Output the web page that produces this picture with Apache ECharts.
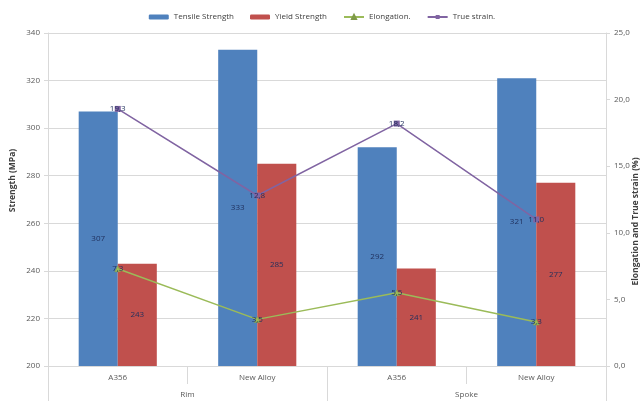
<!DOCTYPE html>
<html>
<head>
<meta charset="utf-8">
<script src="https://cdn.jsdelivr.net/npm/echarts@6/dist/echarts.min.js"></script>
<style>html,body{margin:0;padding:0;background:#fff;}#c{width:644px;height:401px;}</style>
</head>
<body>
<div id="c"></div>
<script>
const categories = ['A356', 'New Alloy', 'A356', 'New Alloy'];
const groups = ['Rim', 'Spoke'];
const tensile = [307, 333, 292, 321];
const yieldS = [243, 285, 241, 277];
const elongation = [7.3, 3.5, 5.5, 3.3];
const trueStrain = [19.3, 12.8, 18.2, 11.0];
const leftTicks = { min: 200, max: 340, interval: 20 };
const rightTicks = { min: 0, max: 25, interval: 5 };

const FONT = 'Open Sans';
const comma = v => Number(v).toFixed(1).replace('.', ',');
const labelColor = '#1f2f5c';
const gridCol = '#d9d9d9';

const chart = echarts.init(document.getElementById('c'));
chart.setOption({
  animation: false,
  textStyle: { fontFamily: FONT },
  legend: {
    top: 8, left: 'center', itemGap: 16, itemWidth: 20, itemHeight: 5,
    textStyle: { fontSize: 8, color: '#404040', fontFamily: FONT },
    data: ['Tensile Strength', 'Yield Strength', 'Elongation.', 'True strain.']
  },
  grid: { left: 48, right: 38, top: 33, bottom: 35, containLabel: false, outerBoundsMode: 'none' },
  xAxis: [
    {
      type: 'category', data: categories, position: 'bottom',
      axisLine: { show: true, lineStyle: { color: gridCol } },
      axisTick: { show: true, interval: 0, alignWithLabel: false, length: 18, lineStyle: { color: gridCol } },
      axisLabel: { interval: 0, margin: 8, fontSize: 8, color: '#595959', fontFamily: FONT }
    },
    {
      type: 'category', data: groups, position: 'bottom',
      axisLine: { show: false },
      axisTick: { show: true, interval: 0, alignWithLabel: false, length: 36, lineStyle: { color: gridCol } },
      axisLabel: { interval: 0, margin: 25, fontSize: 8, color: '#595959', fontFamily: FONT }
    }
  ],
  yAxis: [
    {
      type: 'value', min: leftTicks.min, max: leftTicks.max, interval: leftTicks.interval,
      name: 'Strength (MPa)', nameLocation: 'middle', nameGap: 31, nameRotate: 90, nameMoveOverlap: false,
      nameTextStyle: { fontSize: 8.5, fontWeight: 'bold', color: '#404040', fontFamily: FONT, padding: [0, 0, 0, 38] },
      axisLine: { show: true, lineStyle: { color: gridCol } },
      axisTick: { show: true, length: 4, lineStyle: { color: gridCol } },
      axisLabel: { fontSize: 8, color: '#595959', margin: 8, fontFamily: FONT },
      splitLine: { show: true, lineStyle: { color: gridCol } }
    },
    {
      type: 'value', position: 'right', min: rightTicks.min, max: rightTicks.max, interval: rightTicks.interval,
      name: 'Elongation and True strain (%)', nameLocation: 'middle', nameGap: 25, nameRotate: 90, nameMoveOverlap: false,
      nameTextStyle: { fontSize: 8.5, fontWeight: 'bold', color: '#404040', fontFamily: FONT, padding: [0, 44, 0, 0] },
      axisLine: { show: true, lineStyle: { color: gridCol } },
      axisTick: { show: true, length: 4, lineStyle: { color: gridCol } },
      axisLabel: { fontSize: 8, color: '#595959', margin: 8, formatter: comma, fontFamily: FONT },
      splitLine: { show: false }
    }
  ],
  series: [
    {
      name: 'Tensile Strength', type: 'bar', data: tensile, xAxisIndex: 0, yAxisIndex: 0,
      barGap: '0%', barCategoryGap: '44%',
      itemStyle: { color: '#4f81bd' },
      label: { show: true, position: 'inside', fontSize: 8, color: labelColor, fontFamily: FONT }
    },
    {
      name: 'Yield Strength', type: 'bar', data: yieldS, xAxisIndex: 0, yAxisIndex: 0,
      barGap: '0%', barCategoryGap: '44%',
      itemStyle: { color: '#c0504d' },
      label: { show: true, position: 'inside', fontSize: 8, color: labelColor, fontFamily: FONT }
    },
    {
      name: 'Elongation.', type: 'line', data: elongation, xAxisIndex: 0, yAxisIndex: 1,
      symbol: 'triangle', symbolSize: 6,
      lineStyle: { color: '#9bbb59', width: 1.5 },
      itemStyle: { color: '#9bbb59', borderColor: '#7f9a48', borderWidth: 0.5 },
      label: { show: true, position: 'inside', fontSize: 8, color: labelColor, formatter: p => comma(p.value), fontFamily: FONT }
    },
    {
      name: 'True strain.', type: 'line', data: trueStrain, xAxisIndex: 0, yAxisIndex: 1,
      symbol: 'rect', symbolSize: 6,
      lineStyle: { color: '#8064a2', width: 1.5 },
      itemStyle: { color: '#8064a2' },
      label: { show: true, position: 'inside', fontSize: 8, color: labelColor, formatter: p => comma(p.value), fontFamily: FONT }
    }
  ]
});
</script>
</body>
</html>
